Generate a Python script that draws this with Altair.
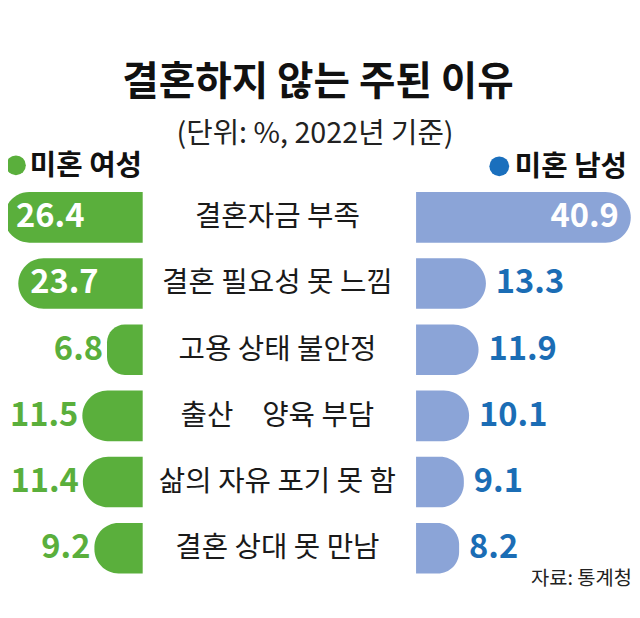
import altair as alt
import pandas as pd

# ---- data ----
categories = ["결혼자금 부족", "결혼 필요성 못 느낌", "고용 상태 불안정",
              "출산\u3000양육 부담", "삶의 자유 포기 못 함", "결혼 상대 못 만남"]
women = [26.4, 23.7, 6.8, 11.5, 11.4, 9.2]
men = [40.9, 13.3, 11.9, 10.1, 9.1, 8.2]

title_text = "결혼하지 않는 주된 이유"
subtitle_text = "(단위: %, 2022년 기준)"
legend_women = "미혼 여성"
legend_men = "미혼 남성"
source_text = "자료: 통계청"

df = pd.DataFrame({"category": categories, "women": women, "men": men})

# ---- layout constants ----
W, H = 630, 598
PX_PER_UNIT = 5.3
XMAX = W / PX_PER_UNIT
LEFT_END = 136 / PX_PER_UNIT
RIGHT_START = 412 / PX_PER_UNIT
MID = 272 / PX_PER_UNIT

GREEN = "#5aaf3c"
BLUE_BAR = "#8ba4d7"
BLUE_TXT = "#1b6db5"
FONT = "Noto Sans CJK KR"

xscale = alt.Scale(domain=[0, XMAX], nice=False, zero=False)
y_enc = alt.Y("category:N", axis=None, sort=categories,
              scale=alt.Scale(domain=categories, range=[175.1, 575.9],
                              paddingInner=0.236, paddingOuter=0.118))

base = alt.Chart(df).transform_calculate(
    wl_start=f"{LEFT_END} - datum.women",
    wl_end=f"{LEFT_END}",
    mr_start=f"{RIGHT_START}",
    mr_end=f"{RIGHT_START} + datum.men",
    mid=f"{MID}",
)

left_bars = base.mark_bar(color=GREEN, cornerRadiusTopLeft=25.5,
                          cornerRadiusBottomLeft=25.5).encode(
    x=alt.X("wl_start:Q", axis=None, scale=xscale), x2="wl_end:Q", y=y_enc)

right_bars = base.mark_bar(color=BLUE_BAR, cornerRadiusTopRight=25.5,
                           cornerRadiusBottomRight=25.5).encode(
    x=alt.X("mr_start:Q", axis=None, scale=xscale), x2="mr_end:Q", y=y_enc)

num_style = dict(font=FONT, fontWeight="bold", fontSize=33, baseline="middle")

left_in = base.transform_filter("datum.women >= 20").mark_text(
    align="left", dx=12, color="white", **num_style).encode(
    x=alt.X("wl_start:Q", axis=None, scale=xscale), y=y_enc,
    text=alt.Text("women:Q", format=".1f"))

left_out = base.transform_filter("datum.women < 20").mark_text(
    align="right", dx=-4, color=GREEN, **num_style).encode(
    x=alt.X("wl_start:Q", axis=None, scale=xscale), y=y_enc,
    text=alt.Text("women:Q", format=".1f"))

right_in = base.transform_filter("datum.men >= 20").mark_text(
    align="right", dx=-12, color="white", **num_style).encode(
    x=alt.X("mr_end:Q", axis=None, scale=xscale), y=y_enc,
    text=alt.Text("men:Q", format=".1f"))

right_out = base.transform_filter("datum.men < 20").mark_text(
    align="left", dx=10, color=BLUE_TXT, **num_style).encode(
    x=alt.X("mr_end:Q", axis=None, scale=xscale), y=y_enc,
    text=alt.Text("men:Q", format=".1f"))

cat_labels = base.mark_text(font=FONT, fontSize=29, color="#1a1a1a",
                            align="center", baseline="middle").encode(
    x=alt.X("mid:Q", axis=None, scale=xscale), y=y_enc, text="category:N")


def annot(text, x, y, **kw):
    return alt.Chart(pd.DataFrame({"t": [text]})).mark_text(
        font=FONT, baseline="middle", **kw).encode(
        x=alt.value(x), y=alt.value(y), text="t:N")


title = annot(title_text, 313, 73, fontSize=40, fontWeight="bold",
              color="#111111", align="center")
subtitle = annot(subtitle_text, 310, 124, fontSize=29, color="#222222",
                 align="center")
leg_w = annot(legend_women, 22, 157, fontSize=29, fontWeight="bold",
              color="#111111", align="left")
leg_m = annot(legend_men, 625, 158, fontSize=29, fontWeight="bold",
              color="#111111", align="right")
source = annot(source_text, 630, 574, fontSize=20, color="#222222",
               align="right")


def dot(color, x, y):
    return alt.Chart(pd.DataFrame({"c": [color]})).mark_circle(
        size=400, opacity=1).encode(
        x=alt.value(x), y=alt.value(y), color=alt.Color("c:N", scale=None))


dot_w = dot(GREEN, 8, 156)
dot_m = dot("#1a6fbd", 496, 157)

chart = alt.layer(
    left_bars, right_bars, left_in, left_out, right_in, right_out,
    cat_labels, title, subtitle, leg_w, leg_m, source, dot_w, dot_m,
).properties(
    width=W, height=H,
    autosize=alt.AutoSizeParams(type="none"),
    padding=0,
    background="white",
).configure_view(stroke=None)

chart.save("out.html", embed_options={"renderer": "svg", "actions": False})
